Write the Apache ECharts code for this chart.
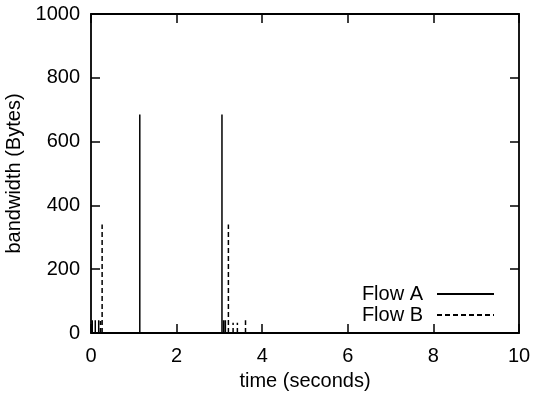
<!DOCTYPE html>
<html>
<head>
<meta charset="utf-8">
<script src="https://cdn.jsdelivr.net/npm/echarts@6/dist/echarts.min.js"></script>
<style>
  body { margin: 0; background: #fff; }
  #chart { width: 535px; height: 395px; }
</style>
</head>
<body>
<div id="chart"></div>
<script>
// impulse times (s) and heights (Bytes)
var flowATimes = [0.03, 0.10, 0.18, 1.14, 3.06, 3.10, 3.14];
var flowAValues = [40, 40, 40, 685, 685, 40, 40];
var flowBTimes = [0.22, 0.26, 3.21, 3.32, 3.42, 3.61];
var flowBValues = [38, 340, 340, 32, 32, 40];
var xTicks = [0, 2, 4, 6, 8, 10];
var yTicks = [0, 200, 400, 600, 800, 1000];

// each impulse: up from 0 and break the line
function impulses(times, values) {
  var out = [];
  for (var i = 0; i < times.length; i++) {
    out.push([times[i], 0]);
    out.push([times[i], values[i]]);
    out.push('-');
  }
  return out;
}

var font = "'Liberation Sans', Arial, sans-serif";
var txt = { fontFamily: font, fontSize: 20, color: "#000" };
var axLine = { show: true, onZero: false, lineStyle: { color: "#000", width: 1.8 } };
var tick = { show: true, inside: true, length: 9, lineStyle: { color: "#000", width: 1.5 } };

var myChart = echarts.init(document.getElementById("chart"));
var option = {
  animation: false,
  grid: { left: 91, right: 16, top: 14, bottom: 62, containLabel: false, outerBoundsMode: "none" },
  legend: {
    orient: "vertical",
    right: 35,
    top: 279,
    align: "right",
    itemWidth: 57,
    itemHeight: 14,
    itemGap: 1,
    itemStyle: { color: "transparent", borderWidth: 0 },
    textStyle: { fontFamily: font, fontSize: 20, color: "#000", padding: [0, 9, 0, 0] },
    data: ["Flow A", "Flow B"]
  },
  xAxis: [
    {
      type: "value",
      min: 0, max: 10, interval: 2,
      name: "time (seconds)",
      nameLocation: "middle",
      nameGap: 38,
      nameTextStyle: txt,
      axisLine: axLine,
      axisTick: tick,
      axisLabel: {
        fontFamily: font, fontSize: 20, color: "#000", margin: 13,
        formatter: function (v) { return xTicks.indexOf(v) >= 0 ? String(v) : ""; }
      },
      splitLine: { show: false }
    },
    {
      type: "value",
      position: "top",
      min: 0, max: 10, interval: 2,
      axisLine: axLine,
      axisTick: tick,
      axisLabel: { show: false },
      splitLine: { show: false }
    }
  ],
  yAxis: [
    {
      type: "value",
      min: 0, max: 1000, interval: 200,
      name: "bandwidth (Bytes)",
      nameLocation: "middle",
      nameGap: 59,
      nameTextStyle: txt,
      axisLine: axLine,
      axisTick: tick,
      axisLabel: {
        fontFamily: font, fontSize: 20, color: "#000", margin: 11,
        formatter: function (v) { return yTicks.indexOf(v) >= 0 ? String(v) : ""; }
      },
      splitLine: { show: false }
    },
    {
      type: "value",
      position: "right",
      min: 0, max: 1000, interval: 200,
      axisLine: axLine,
      axisTick: tick,
      axisLabel: { show: false },
      splitLine: { show: false }
    }
  ],
  series: [
    {
      name: "Flow A",
      type: "line",
      symbol: "none",
      lineStyle: { color: "#000", width: 1.5, type: "solid" },
      itemStyle: { color: "#000" },
      data: impulses(flowATimes, flowAValues)
    },
    {
      name: "Flow B",
      type: "line",
      symbol: "none",
      lineStyle: { color: "#000", width: 1.5, type: [5, 3] },
      itemStyle: { color: "#000" },
      data: impulses(flowBTimes, flowBValues)
    }
  ]
};
myChart.setOption(option, true);
</script>
</body>
</html>
